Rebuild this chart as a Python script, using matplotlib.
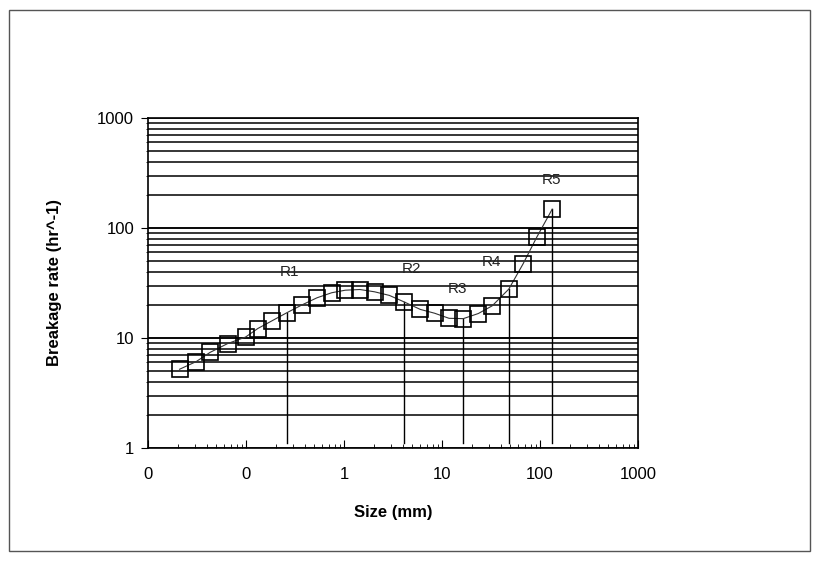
import matplotlib
matplotlib.use("Agg")
import matplotlib.pyplot as plt
import numpy as np
from matplotlib.patches import Rectangle

plt.rcParams['font.family'] = ['Liberation Sans', 'DejaVu Sans']

# Data
size_mm = [0.021, 0.031, 0.043, 0.065, 0.099, 0.132, 0.186, 0.262, 0.373, 0.53,
           0.75, 1.03, 1.45, 2.05, 2.9, 4.1, 6.0, 8.4, 11.8, 16.5,
           23.5, 32.5, 48.0, 67.0, 93.0, 133.0]
rate = [5.2, 6.1, 7.4, 8.9, 10.2, 12.2, 14.4, 17.0, 20.0, 23.2,
        25.8, 27.2, 27.6, 26.3, 24.4, 21.3, 18.2, 16.8, 15.1, 15.0,
        16.7, 19.6, 27.8, 47.0, 83.0, 148.0]

region_labels = ["R1", "R2", "R3", "R4", "R5"]
region_idx = [7, 15, 19, 22, 25]
label_x = [0.28, 4.9, 14.5, 32.0, 130.0]
label_y = [40.0, 42.5, 28.0, 49.0, 272.0]

x_ticks = [0.01, 0.1, 1, 10, 100, 1000]
x_ticklabels = ["0", "0", "1", "10", "100", "1000"]
y_ticks = [1, 10, 100, 1000]
y_ticklabels = ["1", "10", "100", "1000"]

fig = plt.figure(figsize=(8.18, 5.61), dpi=100)
fig.patches.append(Rectangle((9/818, 10/561), 801/818, 541/561, transform=fig.transFigure,
                             fill=False, edgecolor='#555555', linewidth=1.0))
ax = fig.add_axes([148/818, 1-448/561, 490/818, 330/561])
ax.set_xscale('log')
ax.set_yscale('log')
ax.set_xlim(0.01, 1000)
ax.set_ylim(1, 1000)

# horizontal grid at all major/minor positions
for dec in [1, 10, 100]:
    for m in range(1, 11):
        v = dec * m
        if v <= 1000:
            ax.axhline(v, color='black', linewidth=1.1, zorder=1)

# drop lines
for i in region_idx:
    ax.plot([size_mm[i], size_mm[i]], [1.1, rate[i]], color='black', linewidth=1.0, zorder=2)

ax.plot(size_mm, rate, color='#333333', linewidth=0.8, zorder=3)
ax.plot(size_mm, rate, linestyle='none', marker='s', markersize=11,
        markerfacecolor='none', markeredgecolor='black', markeredgewidth=1.2, zorder=4)

for lab, lx, ly in zip(region_labels, label_x, label_y):
    ax.text(lx, ly, lab, fontsize=11, ha='center', va='center', color='#222222')

ax.set_xticks(x_ticks)
ax.set_xticklabels(x_ticklabels)
ax.set_yticks(y_ticks)
ax.set_yticklabels(y_ticklabels)
ax.tick_params(axis='x', which='major', direction='in', length=6, labelsize=12, pad=14)
ax.tick_params(axis='x', which='minor', direction='in', length=3)
ax.tick_params(axis='y', which='major', direction='out', length=5, labelsize=12, pad=5)
ax.tick_params(axis='y', which='minor', direction='out', length=1.5)
for s in ax.spines.values():
    s.set_linewidth(1.2)

ax.set_xlabel("Size (mm)", fontsize=12, fontweight='bold', labelpad=16)
ax.set_ylabel("Breakage rate (hr^-1)", fontsize=12, fontweight='bold', labelpad=25)

fig.savefig("out.png", dpi=100)
